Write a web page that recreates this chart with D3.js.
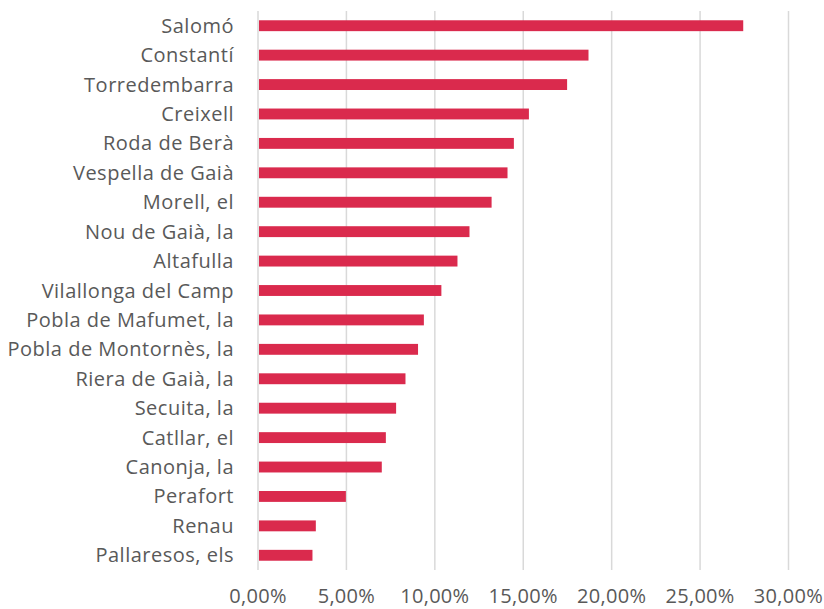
<!DOCTYPE html>
<html><head><meta charset="utf-8">
<script src="https://cdn.jsdelivr.net/npm/d3@7"></script>
<style>body{margin:0;background:#fff}svg{display:block}</style>
</head><body>
<script>
const categories = ["Salomó","Constantí","Torredembarra","Creixell","Roda de Berà","Vespella de Gaià","Morell, el","Nou de Gaià, la","Altafulla","Vilallonga del Camp","Pobla de Mafumet, la","Pobla de Montornès, la","Riera de Gaià, la","Secuita, la","Catllar, el","Canonja, la","Perafort","Renau","Pallaresos, els"];
const values = [27.44,18.69,17.48,15.32,14.47,14.11,13.21,11.96,11.28,10.37,9.38,9.05,8.34,7.81,7.23,7.00,4.97,3.27,3.08];
const ticks = [0,5,10,15,20,25,30];
const tickLabels = ["0,00%","5,00%","10,00%","15,00%","20,00%","25,00%","30,00%"];

const W=824,H=609;
const svg=d3.select("body").append("svg").attr("width",W).attr("height",H);
const x=d3.scaleLinear().domain([0,30]).range([258,788.5]);
const y=d3.scaleBand().domain(categories).range([11,570]).paddingInner(0.63).paddingOuter(0.315);
const font="'Open Sans', sans-serif";

svg.append("g").selectAll("line").data(ticks).join("line")
  .attr("x1",d=>x(d)).attr("x2",d=>x(d)).attr("y1",11).attr("y2",570)
  .attr("stroke","#d9d9d9").attr("stroke-width",1.5);

svg.append("g").selectAll("rect").data(categories).join("rect")
  .attr("x",x(0)+1).attr("y",d=>y(d))
  .attr("width",(d,i)=>x(values[i])-x(0)-1).attr("height",y.bandwidth())
  .attr("fill","#da2a4d");

svg.append("g").selectAll("text").data(categories).join("text")
  .attr("x",234).attr("y",d=>y(d)+y.bandwidth()/2).attr("dy","0.35em")
  .attr("text-anchor","end").attr("font-family",font).attr("font-size",20)
  .attr("letter-spacing","0.5px")
  .attr("fill","#595959").text(d=>d);

svg.append("g").selectAll("text").data(ticks).join("text")
  .attr("x",d=>x(d)).attr("y",596).attr("dy","0.35em")
  .attr("text-anchor","middle").attr("font-family",font).attr("font-size",20)
  .attr("letter-spacing","0.3px")
  .attr("fill","#595959").text((d,i)=>tickLabels[i]);
</script>
</body></html>
